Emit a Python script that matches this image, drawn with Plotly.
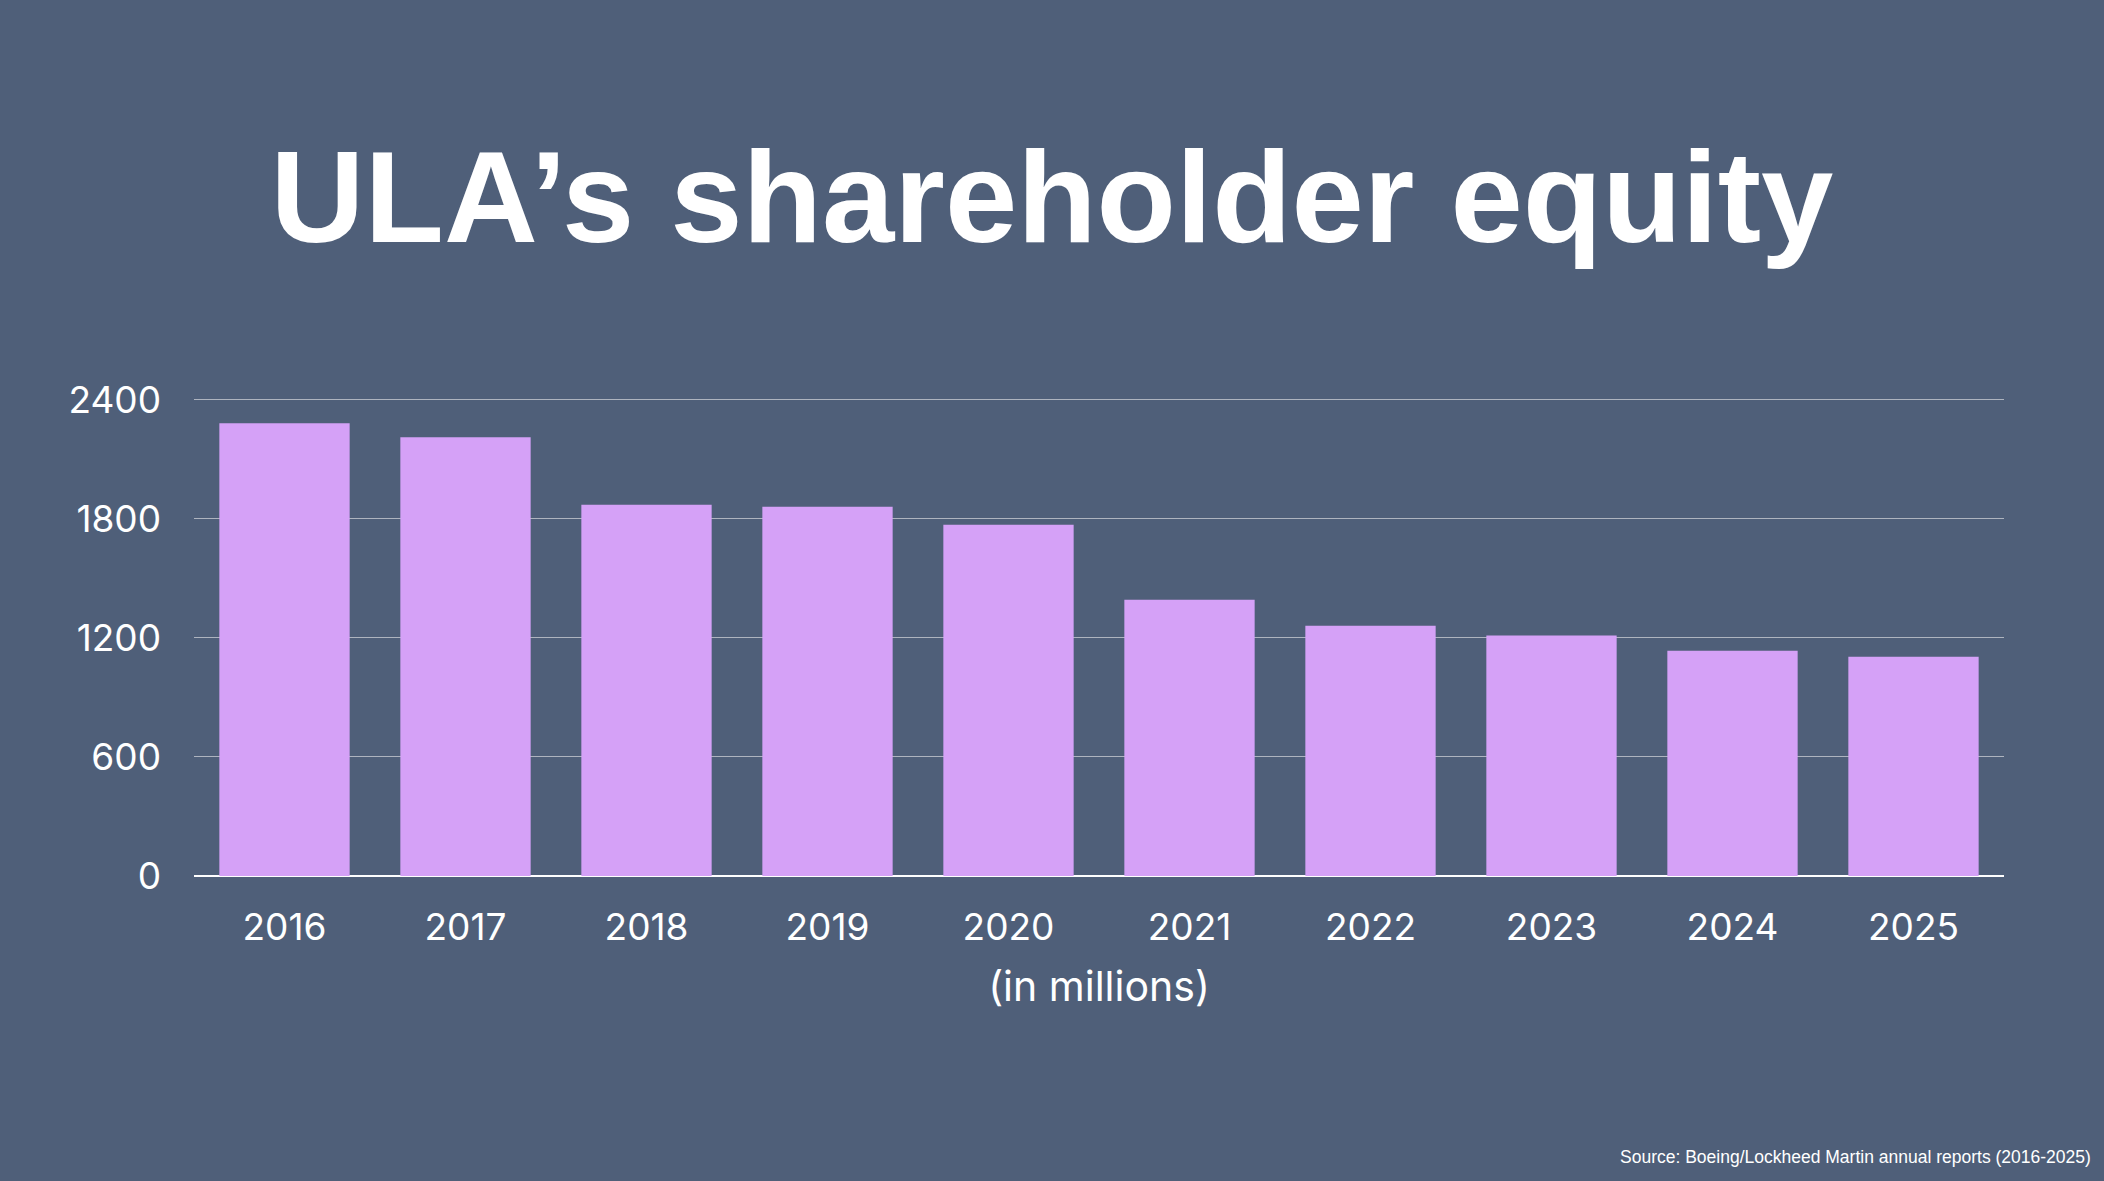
import plotly.graph_objects as go

# 数据
years = ["2016", "2017", "2018", "2019", "2020", "2021", "2022", "2023", "2024", "2025"]
equity = [2283, 2212, 1872, 1862, 1771, 1393, 1262, 1212, 1136, 1106]
y_ticks = [0, 600, 1200, 1800, 2400]

BG = "#4F5F79"
BAR = "#D5A1F7"
TICK_FONT = "Inter, Liberation Sans, Arial, sans-serif"

fig = go.Figure(
    data=[
        go.Bar(
            x=years, y=equity,
            marker=dict(color=BAR, line=dict(width=0)),
            hoverinfo="x+y",
        )
    ]
)

fig.update_layout(
    width=2104, height=1181,
    paper_bgcolor=BG, plot_bgcolor=BG,
    margin=dict(l=194, r=100, t=397, b=305),
    bargap=0.28,
    showlegend=False,
    title=dict(
        text="<b>ULA’s shareholder equity</b>",
        font=dict(family="Liberation Sans, Arial, sans-serif", size=130, color="white"),
        x=0.5, xanchor="center",
        y=1 - 196 / 1181, yanchor="middle", yref="container",
    ),
    xaxis=dict(
        type="category",
        tickfont=dict(family=TICK_FONT, size=37, color="white"),
        ticklabelstandoff=26,
        showgrid=False,
        showline=False,
        title=dict(text="(in millions)", standoff=24,
                   font=dict(family=TICK_FONT, size=41, color="white")),
    ),
    yaxis=dict(
        range=[0, 2415],
        tickvals=y_ticks,
        tickfont=dict(family=TICK_FONT, size=37, color="white"),
        ticklabelstandoff=32,
        showgrid=True, gridcolor="#AEB4BF", gridwidth=1.2,
        zeroline=True, zerolinecolor="white", zerolinewidth=2,
        showline=False,
    ),
    annotations=[
        dict(
            text="Source: Boeing/Lockheed Martin annual reports (2016-2025)",
            xref="paper", yref="paper",
            x=(2093 - 194) / (2104 - 194 - 100), y=-(1157 - 876) / 479,
            xanchor="right", yanchor="middle", showarrow=False,
            font=dict(family="Liberation Sans, Arial, sans-serif", size=17.5, color="white"),
        )
    ],
)

# 去掉页面默认边距，隐藏工具栏
fig.write_html(
    "out.html",
    config={"displayModeBar": False},
    post_script="document.body.style.margin='0';",
)
